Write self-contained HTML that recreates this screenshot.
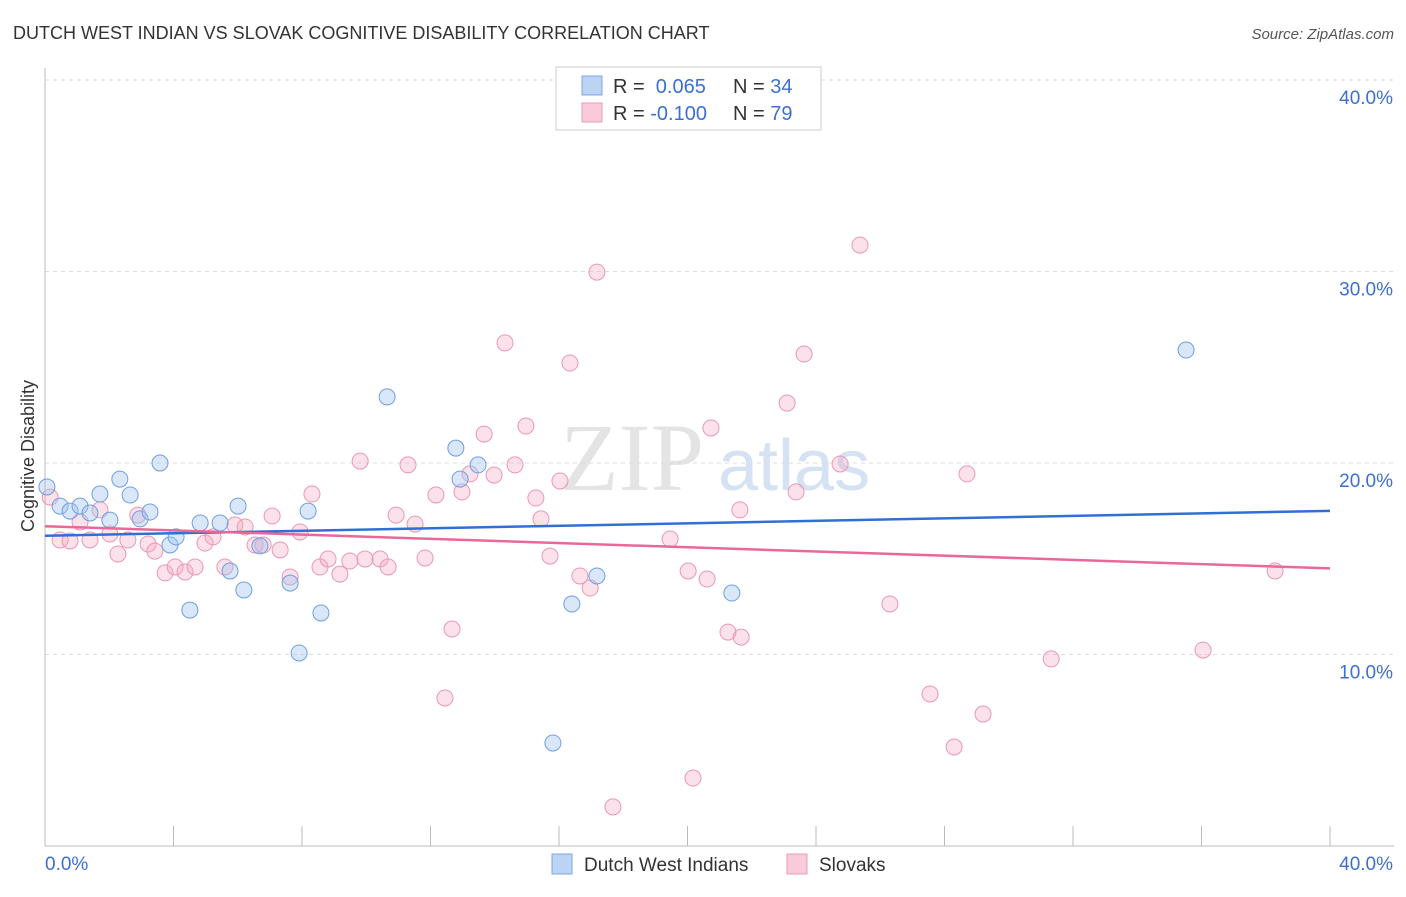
<!DOCTYPE html>
<html><head><meta charset="utf-8"><style>
body{margin:0;background:#fff;font-family:"Liberation Sans",sans-serif;}
</style></head><body>
<svg id="chart" width="1406" height="892" xmlns="http://www.w3.org/2000/svg">
<text x="13" y="39" font-size="18" fill="#333">DUTCH WEST INDIAN VS SLOVAK COGNITIVE DISABILITY CORRELATION CHART</text>
<text x="1394" y="39" font-size="15" fill="#555" font-style="italic" text-anchor="end">Source: ZipAtlas.com</text>
<text x="560" y="490" font-size="96" fill="#e4e4e4" font-family="Liberation Serif">ZIP</text>
<text x="718" y="490" font-size="72" fill="#d4e2f4">atlas</text>
<g id="grid"></g><g id="axes"></g><g id="pts"></g><g id="trends"></g>
<text transform="translate(34,456) rotate(-90)" font-size="18" fill="#333" text-anchor="middle">Cognitive Disability</text>
<g>
<rect x="556" y="67" width="265" height="63" fill="#fff" stroke="#ccc"/>
<rect x="582" y="76" width="20" height="19" fill="#bcd4f4" stroke="#7aa6e6"/>
<rect x="582" y="103" width="20" height="19" fill="#f9cad9" stroke="#ec9ab6"/>
<text x="613" y="93" font-size="20" fill="#333">R = <tspan fill="#3d6fd1">&#160;0.065</tspan><tspan x="733">N = </tspan><tspan fill="#3d6fd1">34</tspan></text>
<text x="613" y="120" font-size="20" fill="#333">R = <tspan fill="#3d6fd1">-0.100</tspan><tspan x="733">N = </tspan><tspan fill="#3d6fd1">79</tspan></text>
</g>
<g>
<rect x="552" y="854" width="20" height="20" fill="#bcd4f4" stroke="#7aa6e6"/>
<text x="584" y="871" font-size="19" fill="#333">Dutch West Indians</text>
<rect x="787" y="854" width="20" height="20" fill="#f9cad9" stroke="#ec9ab6"/>
<text x="819" y="871" font-size="19" fill="#333">Slovaks</text>
</g>
</svg>
<script>
const yTicks=[10,20,30,40];
const xTickLabels=["0.0%","40.0%"];
const blueX=[0.06,0.47,0.78,1.09,1.40,1.71,2.02,2.33,2.65,2.96,3.27,3.58,3.89,4.08,4.51,4.83,5.76,6.01,6.19,5.45,6.69,7.63,7.91,8.19,8.59,10.65,12.79,12.92,13.48,15.81,16.40,17.18,21.38,35.52];
const blueY=[18.75,17.75,17.49,17.75,17.39,18.38,17.02,19.16,18.33,17.08,17.44,20.0,15.72,16.14,12.32,16.87,14.36,17.75,13.37,16.87,15.67,13.73,10.08,17.49,12.17,23.45,20.78,19.16,19.90,5.38,12.64,14.10,13.21,25.90];
const pinkX=[0.16,0.47,0.78,1.09,1.40,1.71,2.02,2.27,2.58,2.89,3.21,3.42,3.74,4.05,4.36,4.67,4.98,5.23,5.60,5.91,6.23,6.54,6.79,7.07,7.32,7.63,7.94,8.31,8.56,8.81,9.18,9.49,9.81,9.96,10.43,10.68,10.93,11.30,11.52,11.83,12.17,12.45,12.67,12.98,13.23,13.67,13.98,14.32,14.63,14.97,15.28,15.44,15.72,16.03,16.34,16.65,16.97,17.18,17.68,19.46,20.02,20.17,20.61,20.73,21.26,21.63,21.67,23.10,23.38,23.63,24.75,25.37,26.30,27.55,28.30,28.70,29.20,31.32,36.05,38.29];
const pinkY=[18.22,15.98,15.93,16.92,15.98,17.55,16.29,15.25,15.98,17.28,15.77,15.40,14.26,14.57,14.31,14.57,15.82,16.14,14.57,16.76,16.66,15.72,15.72,17.23,15.46,14.05,16.40,18.38,14.57,14.99,14.20,14.88,20.10,14.99,14.99,14.57,17.28,19.90,16.81,15.04,18.33,7.73,11.33,18.49,19.43,21.51,19.37,26.27,19.90,21.93,18.17,17.08,15.14,19.06,25.22,14.10,13.47,29.97,2.04,16.03,14.36,3.55,13.94,21.83,11.17,17.55,10.91,23.13,18.49,25.69,19.95,31.38,12.64,7.94,5.17,19.43,6.89,9.77,10.23,14.36];
const blueTrend=[16.2,17.5];
const pinkTrend=[16.7,14.5];
const X0=45,X1=1330,Y0=846,Y40=80;
const sx=v=>X0+(X1-X0)*v/40, sy=v=>Y0-(Y0-Y40)*v/40;
const NS="http://www.w3.org/2000/svg";
function mk(t,a,p){const e=document.createElementNS(NS,t);for(const k in a)e.setAttribute(k,a[k]);document.getElementById(p).appendChild(e);return e;}
yTicks.forEach(t=>{
 const l=mk('line',{x1:X0,x2:1394,y1:sy(t),y2:sy(t),stroke:'#ddd','stroke-dasharray':'4,4'},'grid');
 
 
 const tx=mk('text',{x:1393,y:sy(t)+24,'font-size':19,fill:'#3d6fd1','text-anchor':'end'},'grid');
 tx.textContent=t.toFixed(1)+'%';
 
 
});
const ax=mk('line',{x1:X0,x2:X0,y1:68,y2:Y0,stroke:'#bbb'},'axes');


const bx=mk('line',{x1:X0,x2:1394,y1:Y0,y2:Y0,stroke:'#bbb'},'axes');


for(let i=0;i<=10;i++){const t=mk('line',{x1:sx(i*4),x2:sx(i*4),y1:826,y2:Y0,stroke:'#bbb'},'axes');
 
 }
xTickLabels.forEach((s,i)=>{const t=mk('text',{x:i?1393:45,y:870,'font-size':19,fill:'#3d6fd1','text-anchor':i?'end':'start'},'axes');t.textContent=s;
 
 });
pinkX.forEach((x,i)=>{const c=mk('circle',{cx:sx(x),cy:sy(pinkY[i]),r:8,fill:'rgba(244,170,196,0.35)',stroke:'#eb97b5','stroke-width':1},'pts');
 
 });
blueX.forEach((x,i)=>{const c=mk('circle',{cx:sx(x),cy:sy(blueY[i]),r:8,fill:'rgba(160,196,240,0.4)',stroke:'#6e9fe2','stroke-width':1},'pts');
 
 });
const bt=mk('line',{x1:sx(0),x2:sx(40),y1:sy(blueTrend[0]),y2:sy(blueTrend[1]),stroke:'#2f6fd6','stroke-width':2.5},'trends');


const pt=mk('line',{x1:sx(0),x2:sx(40),y1:sy(pinkTrend[0]),y2:sy(pinkTrend[1]),stroke:'#e8689a','stroke-width':2.5},'trends');


</script>
</body></html>
